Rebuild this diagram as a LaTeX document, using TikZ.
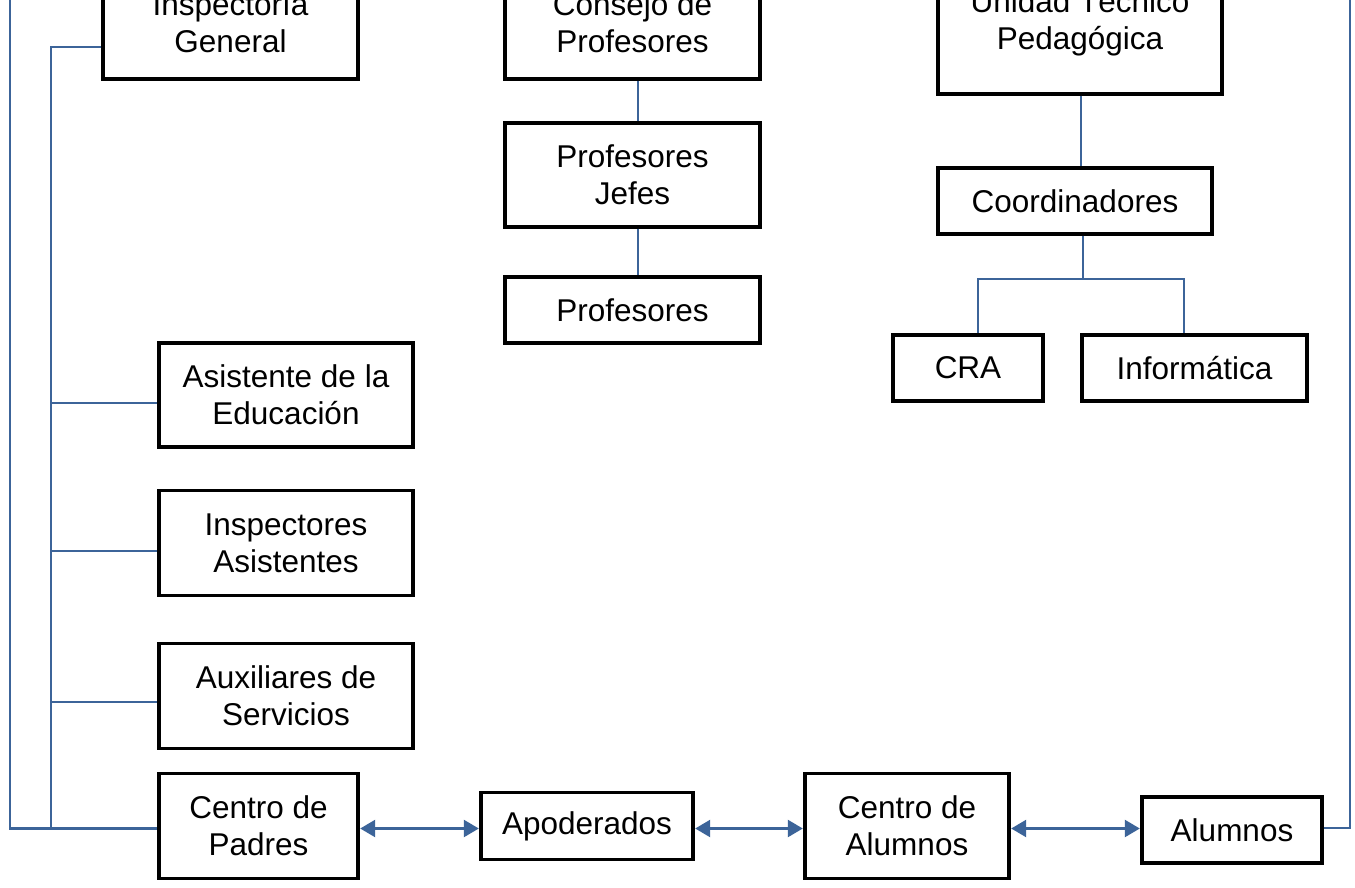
\documentclass[tikz,border=0pt]{standalone}
\usepackage{fontspec}
\setmainfont{Liberation Sans}
\usetikzlibrary{arrows.meta}
\definecolor{conn}{HTML}{3C6499}
\tikzset{
  box/.style={draw=black, line width=3.4pt, inner sep=0pt, align=center,
    font=\fontsize{31.5}{37}\selectfont},
  link/.style={draw=conn, line width=2.5pt},
  dbl/.style={link, {Triangle[length=15pt,width=17pt]}-{Triangle[length=15pt,width=17pt]}, shorten <=0.5pt, shorten >=0.5pt}
}
\begin{document}
\begin{tikzpicture}[x=1pt,y=-1pt]
\useasboundingbox (0,0) rectangle (1355,888);
\clip (0,0) rectangle (1355,888);
\fill[white] (0,0) rectangle (1355,888);
% top row
\node[box, minimum width=255pt, minimum height=112pt] (ig) at (230.5,23) {Inspectoría\\General};
\node[box, minimum width=255pt, minimum height=112pt] (cp) at (632.5,23) {Consejo de\\Profesores};
\node[box, minimum width=284pt, minimum height=142pt] (utp) at (1080,23) {Unidad Técnico\\Pedagógica};
% middle
\node[box, minimum width=255pt, minimum height=104pt] (pj) at (632.5,175) {Profesores\\Jefes};
\node[box, minimum width=255pt, minimum height=66pt] (pr) at (632.5,310) {Profesores};
\node[box, minimum width=274pt, minimum height=66pt] (co) at (1075,201) {Coordinadores};
\node[box, minimum width=150pt, minimum height=66pt] (cra) at (968,368) {CRA};
\node[box, minimum width=225pt, minimum height=66pt] (inf) at (1194.5,368) {Informática};
% left column
\node[box, minimum width=254pt, minimum height=104pt] (ae) at (286,395) {Asistente de la\\Educación};
\node[box, minimum width=254pt, minimum height=105pt] (ia) at (286,543) {Inspectores\\Asistentes};
\node[box, minimum width=254pt, minimum height=105pt] (as) at (286,696) {Auxiliares de\\Servicios};
% bottom row
\node[box, minimum width=199pt, minimum height=105pt] (cpa) at (258.5,826) {Centro de\\Padres};
\node[box, minimum width=212pt, minimum height=67pt] (apo) at (587,826) {Apoderados};
\node[box, minimum width=204pt, minimum height=105pt] (cal) at (907,826) {Centro de\\Alumnos};
\node[box, minimum width=180pt, minimum height=66pt] (alu) at (1232,830) {Alumnos};
% coordinates
\coordinate (row) at (0,828.5);
\coordinate (busTop) at (51,47);
\coordinate (busBot) at (51,828.5);
\coordinate (outL) at (10,-5);
\coordinate (outR) at (1350,-5);
\coordinate (tm) at (1083,279);
\coordinate (tl) at (978,279);
\coordinate (tr) at (1184,279);
\coordinate (cx) at (638,0);
\coordinate (ux) at (1081,0);
% left bus
\draw[link] (ig.west |- busTop) -- (busTop) -- (busBot);
\draw[link] (outL) -- (outL |- row) -- (cpa.west |- row);
\draw[link] (busTop |- 0,403) -- (ae.west |- 0,403);
\draw[link] (busTop |- 0,551) -- (ia.west |- 0,551);
\draw[link] (busTop |- 0,702) -- (as.west |- 0,702);
% right line
\draw[link] (outR) -- (outR |- 0,828) -- (alu.east |- 0,828);
% vertical chains
\draw[link] (cp.south -| cx) -- (pj.north -| cx);
\draw[link] (pj.south -| cx) -- (pr.north -| cx);
\draw[link] (utp.south -| ux) -- (co.north -| ux);
\draw[link] (co.south -| tm) -- (tm);
\draw[link] (cra.north -| tl) -- (tl) -- (tr) -- (inf.north -| tr);
% bottom arrows
\draw[dbl] (cpa.east |- row) -- (apo.west |- row);
\draw[dbl] (apo.east |- row) -- (cal.west |- row);
\draw[dbl] (cal.east |- row) -- (alu.west |- row);
\end{tikzpicture}
\end{document}
